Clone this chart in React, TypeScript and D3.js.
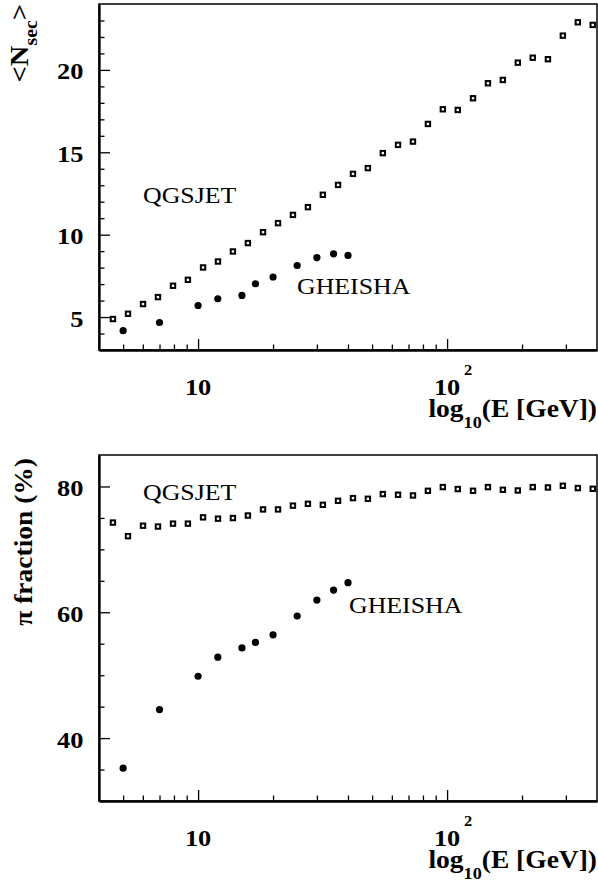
import { useEffect, useRef } from 'react';
import { axisBottom, axisLeft, scaleLinear, scaleLog, select } from 'd3';

// energies in GeV
const qgsEnergy = [
  4.55, 5.23, 6.01, 6.9, 7.93, 9.1, 10.47, 12.02, 13.8, 15.85, 18.23, 20.94, 24.04, 27.61, 31.7, 36.48, 41.88,
  48.08, 55.21, 63.53, 72.94, 83.75, 96.16, 110.4, 127.1, 145.9, 167.5, 192.3, 220.8, 254.1, 291.7, 335.0, 384.6,
];
const qgsMult = [
  4.88, 5.2, 5.79, 6.21, 6.9, 7.26, 8.01, 8.37, 8.98, 9.49, 10.15, 10.7, 11.2, 11.67, 12.42, 13.02, 13.69, 14.04,
  14.95, 15.45, 15.65, 16.72, 17.61, 17.57, 18.28, 19.19, 19.39, 20.44, 20.74, 20.65, 22.08, 22.89, 22.73,
];
const qgsPion = [
  74.26, 72.1, 73.76, 73.63, 74.09, 74.09, 75.09, 74.88, 74.98, 75.38, 76.35, 76.35, 76.95, 77.24, 77.08, 77.72,
  78.15, 78.04, 78.79, 78.68, 78.57, 79.31, 79.9, 79.59, 79.31, 79.9, 79.47, 79.36, 79.9, 79.84, 80.11, 79.74, 79.63,
];

const gheEnergy = [5, 7, 10, 12, 15, 17, 20, 25, 30, 35, 40];
const gheMult = [4.17, 4.67, 5.7, 6.11, 6.31, 7.02, 7.43, 8.13, 8.61, 8.84, 8.74];
const ghePion = [35.22, 44.53, 49.83, 52.86, 54.34, 55.2, 56.41, 59.39, 61.94, 63.53, 64.7];

const xMajor = [10, 100];
const xMinor = [5, 6, 7, 8, 9, 20, 30, 40, 50, 60, 70, 80, 90, 200, 300];

const multMajor = [5, 10, 15, 20];
const multMinor = [4, 6, 7, 8, 9, 11, 12, 13, 14, 16, 17, 18, 19, 21, 22, 23];
const pionMajor = [40, 60, 80];
const pionMinor = [35, 45, 50, 55, 65, 70, 75];

const FONT = "'Liberation Serif', 'Times New Roman', 'DejaVu Serif', serif";
const STRETCH = 1.1;

const W = 598;
const H = 882;
const LEFT = 99;
const RIGHT = 597;

const x = scaleLog().domain([4, 400]).range([LEFT, RIGHT]);

const Txt = (props: any) => {
  const { x, y, size, bold, anchor, rotate, children } = props;
  return (
    <g transform={`translate(${x},${y}) rotate(${rotate || 0}) scale(${STRETCH},1)`}>
      <text
        style={{ fontFamily: FONT, fontSize: size, fontWeight: bold ? 'bold' : 'normal' }}
        textAnchor={anchor || 'start'}
        fill="black"
      >
        {children}
      </text>
    </g>
  );
};

const Axes = (props: any) => {
  const { y, top, bottom, major, minor } = props;
  const xMaj = useRef(null);
  const xMin = useRef(null);
  const yMaj = useRef(null);
  const yMin = useRef(null);

  useEffect(() => {
    const blank = () => '';
    select(xMin.current).call(axisBottom(x).tickValues(xMinor).tickSize(-5.5).tickSizeOuter(0).tickFormat(blank));
    select(xMaj.current).call(axisBottom(x).tickValues(xMajor).tickSize(-11).tickSizeOuter(0).tickFormat(blank));
    select(yMin.current).call(axisLeft(y).tickValues(minor).tickSize(-5.5).tickSizeOuter(0).tickFormat(blank));
    select(yMaj.current).call(axisLeft(y).tickValues(major).tickSize(-11).tickSizeOuter(0).tickFormat(blank));
    [xMin, yMin].forEach((r) => select(r.current).select('path.domain').remove());
    [xMaj, yMaj].forEach((r) => select(r.current).select('path.domain').attr('stroke-width', 2.3));
    [xMin, xMaj, yMin, yMaj].forEach((r) => select(r.current).selectAll('line').attr('stroke-width', 1.3));
  });

  return (
    <>
      <rect x={LEFT} y={top} width={RIGHT - LEFT} height={bottom - top} fill="none" stroke="black" strokeWidth={1.5} />
      <g ref={xMin} transform={`translate(0, ${bottom})`} />
      <g ref={xMaj} transform={`translate(0, ${bottom})`} />
      <g ref={yMin} transform={`translate(${LEFT}, 0)`} />
      <g ref={yMaj} transform={`translate(${LEFT}, 0)`} />
      {major.map((v: number) => (
        <Txt key={v} x={83.5} y={y(v) + 9.5} size={24} bold anchor="end">
          {v}
        </Txt>
      ))}
      <Txt x={x(10)} y={bottom + 45} size={24} bold anchor="middle">
        10
      </Txt>
      <Txt x={x(100)} y={bottom + 45} size={24} bold anchor="middle">
        10
      </Txt>
      <Txt x={x(100) + 17} y={bottom + 25} size={15} bold>
        2
      </Txt>
      <Txt x={RIGHT} y={bottom + 67} size={25} bold anchor="end">
        log
        <tspan style={{ fontSize: 16.5 }} dy={11}>
          10
        </tspan>
        <tspan dy={-11}>(E [GeV])</tspan>
      </Txt>
    </>
  );
};

const Markers = (props: any) => {
  const { y, qgs, ghe } = props;
  return (
    <>
      {qgsEnergy.map((e, i) => (
        <rect
          key={'q' + i}
          x={x(e) - 2.2}
          y={y(qgs[i]) - 2.2}
          width={4.4}
          height={4.4}
          fill="white"
          stroke="black"
          strokeWidth={2}
        />
      ))}
      {gheEnergy.map((e, i) => (
        <circle key={'g' + i} cx={x(e)} cy={y(ghe[i])} r={3.6} fill="black" />
      ))}
    </>
  );
};

export default function App() {
  const yMult = scaleLinear().domain([3, 24]).range([350, 4]);
  const yPion = scaleLinear().domain([30, 85]).range([801, 455]);

  return (
    <svg width={W} height={H} style={{ position: 'absolute', left: 0, top: 0, background: 'white' }}>
      {/* upper panel: mean number of secondaries */}
      <Axes y={yMult} top={4} bottom={350} major={multMajor} minor={multMinor} />
      <Markers y={yMult} qgs={qgsMult} ghe={gheMult} />
      <Txt x={143} y={202.5} size={23.5}>
        QGSJET
      </Txt>
      <Txt x={297} y={293.5} size={23.5}>
        GHEISHA
      </Txt>
      <Txt x={28} y={4} size={26} bold anchor="end" rotate={-90}>
        &lt;N
        <tspan style={{ fontSize: 18 }} dy={9}>
          sec
        </tspan>
        <tspan dy={-9}>&gt;</tspan>
      </Txt>

      {/* lower panel: pion fraction */}
      <Axes y={yPion} top={455} bottom={801} major={pionMajor} minor={pionMinor} />
      <Markers y={yPion} qgs={qgsPion} ghe={ghePion} />
      <Txt x={143} y={500} size={23.5}>
        QGSJET
      </Txt>
      <Txt x={349} y={612.5} size={23.5}>
        GHEISHA
      </Txt>
      <Txt x={32} y={458} size={25} bold anchor="end" rotate={-90}>
        π fraction (%)
      </Txt>
    </svg>
  );
}
